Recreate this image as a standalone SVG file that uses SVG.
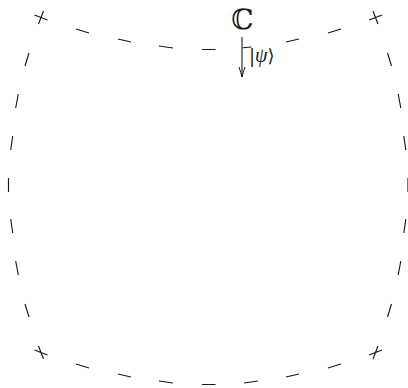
<svg xmlns="http://www.w3.org/2000/svg" width="408" height="388" viewBox="0 0 408 388">
  <style>
    .dash { fill: none; stroke: #1a1a1a; stroke-width: 1.15; stroke-linecap: butt; }
    .arrow { fill: none; stroke: #1a1a1a; stroke-width: 1.1; }
    .lbl { font-family: "DejaVu Serif", "DejaVu Sans", serif; fill: #1a1a1a; }
    .psi { font-family: "Liberation Serif", "DejaVu Serif", serif; font-style: italic; }
  </style>
  <defs>
    <marker id="head" viewBox="0 0 12 12" refX="10" refY="6" markerWidth="12" markerHeight="12" markerUnits="userSpaceOnUse" orient="auto">
      <path d="M0,3 Q6,5 10,6 Q6,7 0,9" fill="none" stroke="#1a1a1a" stroke-width="1"/>
    </marker>
  </defs>
  <rect width="408" height="388" fill="#ffffff"/>
  <g id="boundary">
    <path class="dash" d="
      M34.5,15 L47.5,20 M43.5,11 L38.5,24
      M369,20 L382,15 M373,11 L378,24
      M34.5,350 L47.5,355 M38.5,346 L43.5,359
      M369,355 L382,350 M378,346 L373,359
      M76,29 L89,33 M118,39 L131,42 M159,46 L173,48 M202,49.5 L215.5,49.5
      M242.5,47.8 L251.5,47 M286,42 L299,39 M328,33 L341,29
      M76,364 L89,368 M118,374 L131,377 M159,381 L173,383 M202,384.5 L215.5,384.5
      M244,383 L258,381 M286,377 L299,374 M328,368 L341,364
      M29,53 L25,66 M18.3,94 L15.7,108 M12.7,136 L10.7,150 M8.5,178 L8.5,192
      M10.7,219 L12.7,233 M15.7,261 L18.3,275 M25,304 L29,317
      M387.5,53 L391.5,66 M398.2,94 L400.8,108 M403.8,136 L405.8,150 M408,178 L408,192
      M405.8,219 L403.8,233 M400.8,261 L398.2,275 M391.5,304 L387.5,317"/>
  </g>
  <g id="space-label">
    <text class="lbl" x="242.5" y="28.5" font-size="28" text-anchor="middle">ℂ</text>
  </g>
  <g id="connectors">
    <line class="arrow" x1="242" y1="37" x2="242" y2="77" marker-end="url(#head)"/>
  </g>
  <g id="state-label">
    <text class="lbl" x="249" y="62" font-size="18">|<tspan class="psi" font-size="20">ψ</tspan>⟩</text>
  </g>
</svg>
